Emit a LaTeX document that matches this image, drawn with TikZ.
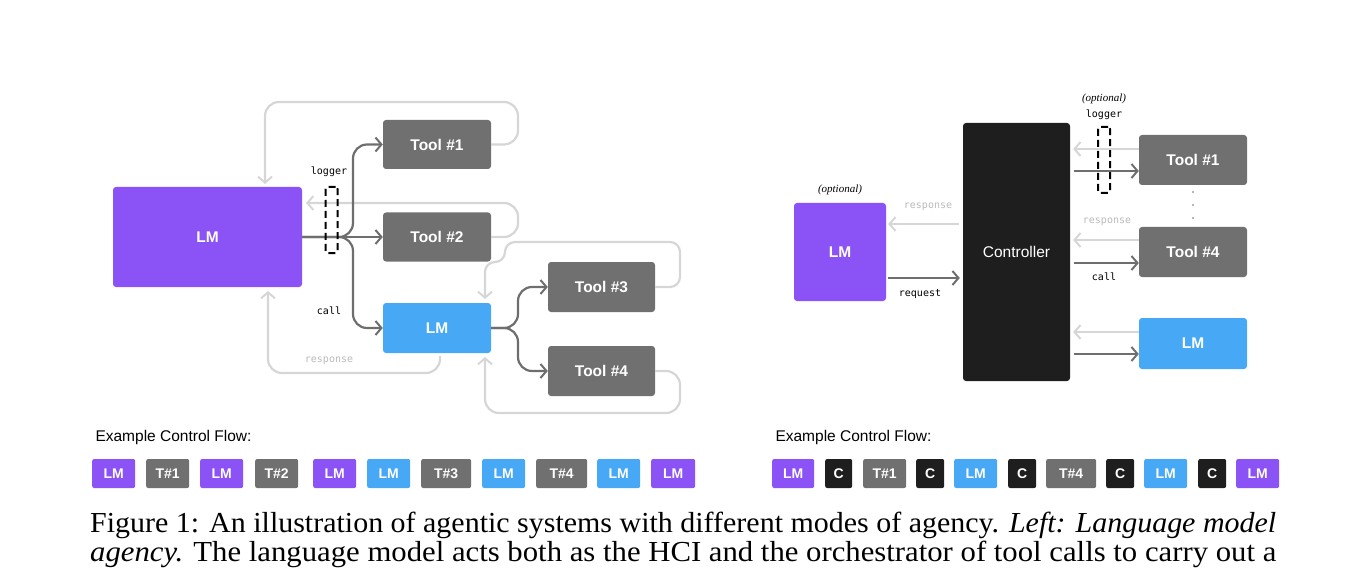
\documentclass[tikz,border=0pt]{standalone}
\usepackage{graphicx}
\usepackage{fontspec}
\setmainfont{Liberation Serif}
\setsansfont{Liberation Sans}
\setmonofont{DejaVu Sans Mono}
\usetikzlibrary{arrows.meta,calc}
\definecolor{purp}{HTML}{8B52F6}
\definecolor{blu}{HTML}{47A8F5}
\definecolor{tgray}{HTML}{707070}
\definecolor{ctrl}{HTML}{1E1E1E}
\definecolor{lgray}{HTML}{D6D6D6}
\definecolor{agray}{HTML}{6E6E6E}
\begin{document}
\begin{tikzpicture}[x=1pt,y=-1pt,
  box/.style={rounded corners=3pt,text=white,font=\sffamily\bfseries\fontsize{15.5}{15.5}\selectfont},
  chip/.style={rounded corners=2pt,text=white,minimum height=29pt,inner sep=0pt,font=\sffamily\bfseries\fontsize{14}{14}\selectfont},
  tip/.style={-{Straight Barb[length=6pt,width=14pt,line width=2pt]}},
  dk/.style={draw=agray,line width=2.2pt,tip},
  lt/.style={draw=lgray,line width=2.2pt,tip},
  mono/.style={font=\ttfamily\fontsize{10}{10}\selectfont},
  opt/.style={font=\itshape\fontsize{11}{11}\selectfont},
  lab/.style={font=\sffamily\fontsize{15.5}{15.5}\selectfont,anchor=base west},
  captxt/.style={anchor=base west,inner sep=0pt,font=\fontsize{29}{29}\selectfont}]
\useasboundingbox (0,0) rectangle (1368,580);
% ---------- left ----------
\node[box,fill=purp,minimum width=189pt,minimum height=100pt] (LM) at (207.5,237) {LM};
\node[box,fill=tgray,minimum width=108pt,minimum height=49pt] (T1) at (437,144.5) {Tool \#1};
\node[box,fill=tgray,minimum width=108pt,minimum height=49pt] (T2) at (437,237) {Tool \#2};
\node[box,fill=blu,minimum width=108pt,minimum height=50pt] (LMb) at (437,328) {LM};
\node[box,fill=tgray,minimum width=107pt,minimum height=50pt] (T3) at (601.5,287) {Tool \#3};
\node[box,fill=tgray,minimum width=107pt,minimum height=50pt] (T4) at (601.5,371) {Tool \#4};
\coordinate (a1) at (265,184);
\coordinate (a2) at (306,203);
\coordinate (a3) at (485,299);
\coordinate (a4) at (485,357);
\coordinate (a5) at (268,291);
\coordinate (r1) at (440,356);
% feedback loops
\draw[lt,rounded corners=14pt] (T1.east) -- (518,144.5) -- (518,102) -- (265,102) -- (a1);
\draw[lt,rounded corners=14pt] (T2.east) -- (518,237) -- (518,203) -- (a2);
\draw[lt,rounded corners=10pt] (T3.east) -- (680,287) -- (680,242) -- (505,242) -- (505,262) -- (485,262) -- (a3);
\draw[lt,rounded corners=14pt] (T4.east) -- (680,371) -- (680,413) -- (485,413) -- (a4);
\draw[lt,rounded corners=14pt] (r1) -- (440,373) -- (268,373) -- (a5);
% calls
\draw[dk] (LM.east) -- (T2.west);
\draw[dk,rounded corners=14pt] (LM.east) -- (353,237) |- (T1.west);
\draw[dk,rounded corners=14pt] (LM.east) -- (353,237) |- (LMb.west);
\draw[dk,rounded corners=14pt] (LMb.east) -- (518,328) |- (T3.west);
\draw[dk,rounded corners=14pt] (LMb.east) -- (518,328) |- (T4.west);
\node[draw=black,dash pattern=on 7pt off 4pt,rounded corners=2pt,line width=2pt,minimum width=12pt,minimum height=66pt,inner sep=0pt] (lg) at (331.5,220) {};
\node[mono] (lgt) at (329,172) {logger};
\node[mono] (callt) at (329,311) {call};
\node[mono,text=lightgray!90!gray] (respt) at (329,361) {response};
% ---------- right ----------
\node[box,fill=ctrl,minimum width=107pt,minimum height=258pt,font=\sffamily\fontsize{15.5}{15.5}\selectfont] (C) at (1016.5,252) {Controller};
\node[box,fill=purp,minimum width=92pt,minimum height=98pt] (LMp) at (840,252) {LM};
\node[box,fill=tgray,minimum width=108pt,minimum height=50pt] (R1) at (1193,160) {Tool \#1};
\node[box,fill=tgray,minimum width=108pt,minimum height=50pt] (R4) at (1193,252) {Tool \#4};
\node[box,fill=blu,minimum width=108pt,minimum height=51pt] (RL) at (1193,343.5) {LM};
\draw[lt,shorten <=4pt,shorten >=2pt] (C.west |- 0,224) -- (LMp.east |- 0,224);
\draw[dk,shorten <=2pt,shorten >=3pt] (LMp.east |- 0,278) -- (C.west |- 0,278);
\foreach \n/\a/\b in {R1/149/171,R4/240/263,RL/332/354}{
  \draw[lt,shorten >=3pt] (\n.west |- 0,\a) -- (C.east |- 0,\a);
  \draw[dk,shorten <=4pt] (C.east |- 0,\b) -- (\n.west |- 0,\b);
}
\node[draw=black,dash pattern=on 7pt off 4pt,rounded corners=2pt,line width=2pt,minimum width=12pt,minimum height=66pt,inner sep=0pt] (lg2) at (1104,160) {};
\node[mono] (lg2t) at (1104,115) {logger};
\node[opt] (o2) at (1104,99) {(optional)};
\node[opt] (o1) at (840,190) {(optional)};
\node[mono,text=lightgray!90!gray] (rs1) at (928,207) {response};
\node[mono] (rq) at (920,294) {request};
\node[mono,text=lightgray!90!gray] (rs2) at (1107,222) {response};
\node[mono] (cl2) at (1104,277) {call};
\foreach \yy in {192,205,218}{\fill[agray] (1193,\yy) circle (0.9pt);}
% ---------- control flows ----------
\node[lab] (ex1) at (92,441) {Example Control Flow:};
\node[lab] (ex2) at (772,441) {Example Control Flow:};
\foreach \a/\b/\c/\t [count=\i] in {92/135/purp/LM,146/189/tgray/T\#1,200/243/purp/LM,255/298/tgray/T\#2,313/356/purp/LM,367/410/blu/LM,421/471/tgray/T\#3,482/525/blu/LM,536/587/tgray/T\#4,597/640/blu/LM,651/695/purp/LM}{
  \node[chip,fill=\c,minimum width={\b-\a},anchor=west] (L\i) at (\a,473.5) {\t};}
\foreach \a/\b/\c/\t [count=\i] in {772/814/purp/LM,825/852/ctrl/C,863/906/tgray/T\#1,916/944/ctrl/C,954/997/blu/LM,1008/1036/ctrl/C,1046/1096/tgray/T\#4,1106/1134/ctrl/C,1144/1187/blu/LM,1198/1226/ctrl/C,1236/1279/purp/LM}{
  \node[chip,fill=\c,minimum width={\b-\a},anchor=west] (R\i) at (\a,473.5) {\t};}
% ---------- caption ----------
\node[captxt] (cap1) at (90,532) {\resizebox{1186pt}{\height}{Figure 1: An illustration of agentic systems with different modes of agency. \textit{Left: Language model}}};
\node[captxt] (cap2) at (90,561) {\resizebox{1186pt}{\height}{\textit{agency.} The language model acts both as the HCI and the orchestrator of tool calls to carry out a}};
\end{tikzpicture}
\end{document}
